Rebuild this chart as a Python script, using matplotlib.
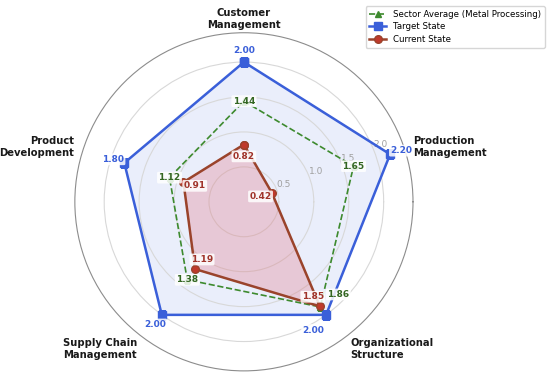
import numpy as np
import matplotlib.pyplot as plt

categories = ["Customer\nManagement", "Production\nManagement", "Organizational\nStructure",
              "Supply Chain\nManagement", "Product\nDevelopment"]
current = [0.82, 0.42, 1.85, 1.19, 0.91]
target = [2.00, 2.20, 2.00, 2.00, 1.80]
sector = [1.44, 1.65, 1.86, 1.38, 1.12]
rticks = [0.5, 1.0, 1.5, 2.0]

n = len(categories)
# start at top, go clockwise
angles = (np.pi / 2 - np.arange(n) * 2 * np.pi / n) % (2 * np.pi)

c_blue = "#3a5fd9"
c_red = "#9a432b"
c_green = "#3d8a2e"

fig = plt.figure(figsize=(5.5, 3.72), dpi=100)
ax = fig.add_axes([0.136, 0.003, 0.615, 0.909], projection="polar")

def closed(v):
    return np.append(v, v[0])

a = closed(angles)

ax.fill(a, closed(target), color="#4169E1", alpha=0.11, zorder=1)
ax.fill(a, closed(current), color="#e05a6a", alpha=0.25, zorder=2)

ax.plot(a, closed(sector), "--", color=c_green, lw=1.2, marker="^", ms=5,
        label="Sector Average (Metal Processing)", zorder=3)
ax.plot(a, closed(target), "-", color=c_blue, lw=1.8, marker="s", ms=6,
        label="Target State", zorder=4)
ax.plot(a, closed(current), "-", color=c_red, lw=1.8, marker="o", ms=5.5,
        markerfacecolor="#c0392b", markeredgecolor=c_red,
        label="Current State", zorder=5)

ax.set_thetalim(0, 2 * np.pi)
ax.set_ylim(0, 2.42)
ax.set_yticks(rticks)
ax.set_yticklabels([f"{t:.1f}" for t in rticks])
ax.tick_params(axis="y", labelsize=6.5, labelcolor="#a0a0a0")
ax.set_rlabel_position(22)
ax.yaxis.grid(True, color="#d8d8d8", lw=0.8)
ax.set_xticks(angles)
ax.set_xticklabels([])
ax.xaxis.grid(False)
ax.spines["polar"].set_color("#8c8c8c")
ax.spines["polar"].set_linewidth(0.8)

# category labels
lab_r = [2.62, 2.55, 2.6, 2.6, 2.55]
lab_ha = ["center", "left", "left", "right", "right"]
for ang, lab, r, ha in zip(angles, categories, lab_r, lab_ha):
    ax.text(ang, r, lab, ha=ha, va="center", fontsize=7.2, fontweight="bold",
            color="#1a1a1a", clip_on=False)

def box():
    return dict(boxstyle="round,pad=0.15", fc="white", ec="none", alpha=0.85)

# target labels (outward)
t_off = [(0, 0), (0, 0), (-14, -4), (0, 0), (0, 0)]
for ang, v, off in zip(angles, target, t_off):
    ax.annotate(f"{v:.2f}", xy=(ang, v + 0.17), xytext=off, textcoords="offset points",
                ha="center", va="center", fontsize=6.5, fontweight="bold",
                color=c_blue, bbox=box(), zorder=7, annotation_clip=False)

# sector labels (at markers)
s_off = [(0, 0), (0, 0), (13, 9), (0, 0), (0, 0)]
for ang, v, off in zip(angles, sector, s_off):
    ax.annotate(f"{v:.2f}", xy=(ang, v), xytext=off, textcoords="offset points",
                ha="center", va="center", fontsize=6.5, fontweight="bold",
                color="#336622", bbox=box(), zorder=6)

# current labels (inward)
for ang, v in zip(angles, current):
    ax.annotate(f"{v:.2f}", xy=(ang, v - 0.17), ha="center", va="center",
                fontsize=6.5, fontweight="bold", color="#a0332a",
                bbox=box(), zorder=8)

fig.legend(loc="upper right", bbox_to_anchor=(0.998, 0.995), fontsize=6.2,
           frameon=True, edgecolor="#cccccc", handlelength=2.0, borderpad=0.4,
           labelspacing=0.45)

fig.savefig("out.png", dpi=100)
